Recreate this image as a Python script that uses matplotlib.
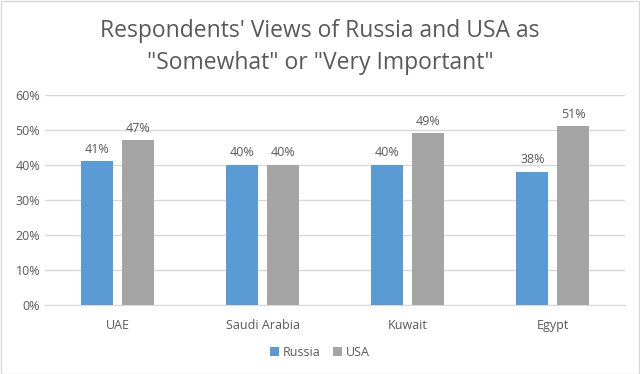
import matplotlib

matplotlib.use("Agg")
import matplotlib.pyplot as plt
import numpy as np
from matplotlib.patches import Rectangle
from matplotlib.ticker import PercentFormatter

countries = ["UAE", "Saudi Arabia", "Kuwait", "Egypt"]
russia = [41, 40, 40, 38]
usa = [47, 40, 49, 51]
yticks = [0, 10, 20, 30, 40, 50, 60]

TEXT = "#595959"
plt.rcParams["font.family"] = ["Open Sans", "DejaVu Sans"]

fig = plt.figure(figsize=(6.4, 3.74), dpi=100)
ax = fig.add_axes([0.0703, 0.1845, 0.9067, 0.5615])

x = np.arange(len(countries))
w = 0.22
off = 0.141
b1 = ax.bar(x - off, russia, w, color="#5B9BD5", label="Russia", zorder=3)
b2 = ax.bar(x + off, usa, w, color="#A5A5A5", label="USA", zorder=3)
for bars in (b1, b2):
    ax.bar_label(bars, labels=[f"{v.get_height():.0f}%" for v in bars],
                 padding=4, fontsize=9, color=TEXT)

ax.set_xlim(-0.5, len(countries) - 0.5)
ax.set_ylim(0, 60)
ax.set_yticks(yticks)
ax.yaxis.set_major_formatter(PercentFormatter(decimals=0))
ax.set_xticks(x, countries)
ax.tick_params(axis="both", length=0, colors=TEXT, labelsize=9)
ax.tick_params(axis="x", pad=10)
ax.grid(True, axis="y", color="#D9D9D9", linewidth=1, zorder=0)
for s in ("top", "right", "left"):
    ax.spines[s].set_visible(False)
ax.spines["bottom"].set_color("#D9D9D9")

fig.text(0.5, 0.875, "Respondents' Views of Russia and USA as\n\"Somewhat\" or \"Very Important\"",
         ha="center", va="center", fontsize=16.5, color=TEXT, linespacing=1.45)

fig.legend(loc="center", bbox_to_anchor=(0.5, 0.058), ncol=2, frameon=False,
           fontsize=9, labelcolor=TEXT, handlelength=0.7, handleheight=0.7,
           handletextpad=0.3, columnspacing=1.0)

fig.patches.append(Rectangle((0.001, 0.001), 0.997, 0.996, transform=fig.transFigure,
                             fill=False, edgecolor="#D9D9D9", linewidth=1))

fig.savefig("out.png", dpi=100)
